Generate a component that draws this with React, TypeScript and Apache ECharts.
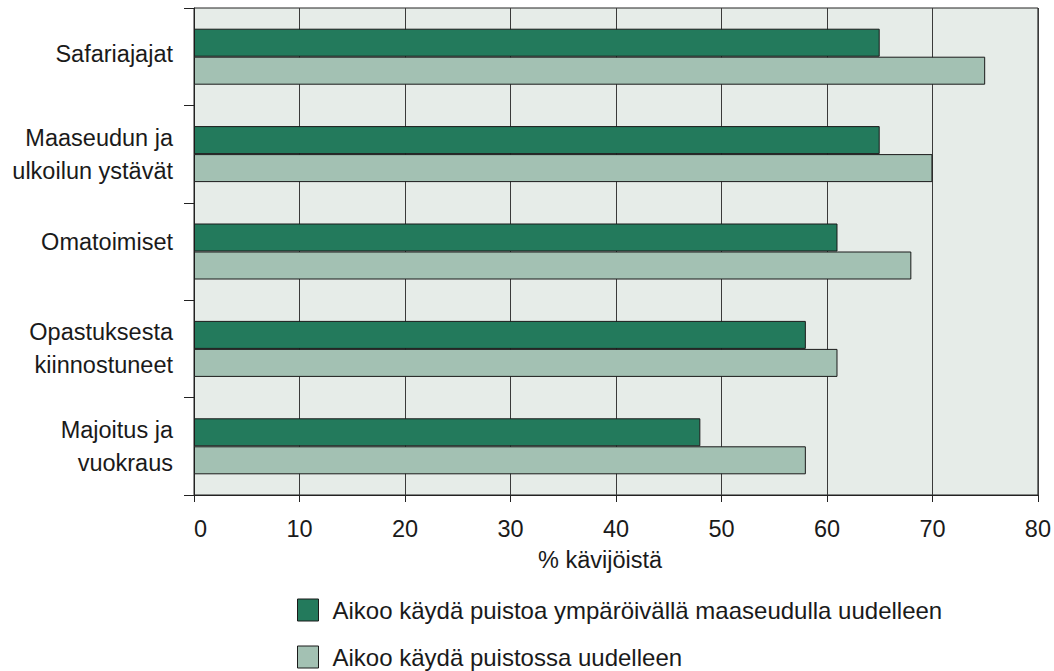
import React, { useEffect, useRef } from "react";
import * as echarts from "echarts";

const categories = [
  "Safariajajat",
  "Maaseudun ja\nulkoilun ystävät",
  "Omatoimiset",
  "Opastuksesta\nkiinnostuneet",
  "Majoitus ja\nvuokraus",
];
const labelStyleKey = ["s", "", "o", "", ""];
const seriesNames = [
  "Aikoo käydä puistoa ympäröivällä maaseudulla uudelleen",
  "Aikoo käydä puistossa uudelleen",
];
const surroundings = [65, 65, 61, 58, 48];
const park = [75, 70, 68, 61, 58];
const axisName = "% kävijöistä";

const FONT = "'Liberation Sans', Arial, sans-serif";

export default function App() {
  const ref = useRef<HTMLDivElement>(null);
  useEffect(() => {
    document.body.style.margin = "0";
    const chart = echarts.init(ref.current!, null, { renderer: "svg" });
    const tok = { fontSize: 23.5, color: "#1a1a1a", fontFamily: FONT };
    chart.setOption({
      animation: false,
      backgroundColor: "#ffffff",
      textStyle: { fontFamily: FONT },
      grid: {
        left: 194,
        right: 14,
        top: 8,
        bottom: 176,
        show: true,
        backgroundColor: "#E6ECE8",
        borderColor: "#222222",
        borderWidth: 1,
      },
      xAxis: {
        type: "value",
        min: 0,
        max: 80,
        interval: 10,
        axisLine: { show: true, lineStyle: { color: "#222222", width: 1 } },
        axisTick: { show: true, length: 7, lineStyle: { color: "#222222" } },
        splitLine: { show: true, lineStyle: { color: "#3a3a3a", width: 1 } },
        axisLabel: {
          fontSize: 23.5,
          color: "#1a1a1a",
          margin: 22,
          fontFamily: FONT,
          alignMinLabel: "left",
        },
      },
      yAxis: {
        type: "category",
        data: categories,
        inverse: true,
        axisLine: { show: true, lineStyle: { color: "#222222", width: 1 } },
        axisTick: { show: true, length: 10, lineStyle: { color: "#222222" } },
        axisLabel: {
          fontSize: 23.5,
          color: "#1a1a1a",
          margin: 21,
          lineHeight: 33,
          align: "right",
          fontFamily: FONT,
          formatter: (value: string, index: number) => {
            const k = labelStyleKey[index];
            return k ? `{${k}|${value}}` : value;
          },
          rich: {
            s: { ...tok, lineHeight: 33, padding: [0, 0, 6, 0] },
            o: { ...tok, lineHeight: 33, padding: [0, 0, 20, 0] },
          },
        },
      },
      legend: {
        orient: "vertical",
        left: 297,
        top: 598,
        padding: 0,
        itemWidth: 21,
        itemHeight: 22,
        itemGap: 23,
        icon: "rect",
        textStyle: { fontSize: 24, color: "#1a1a1a", fontFamily: FONT, padding: [0, 0, 0, 9] },
        itemStyle: { borderColor: "#1a1a1a", borderWidth: 1 },
        data: seriesNames,
      },
      graphic: [
        {
          type: "text",
          left: 538,
          top: 548,
          style: {
            text: axisName,
            fontSize: 23.5,
            fill: "#1a1a1a",
            fontFamily: FONT,
          },
        },
      ],
      series: [
        {
          name: seriesNames[0],
          type: "bar",
          data: surroundings,
          barWidth: 28,
          barGap: "0%",
          itemStyle: { color: "#237A5C", borderColor: "#1a1a1a", borderWidth: 1 },
        },
        {
          name: seriesNames[1],
          type: "bar",
          data: park,
          barWidth: 28,
          barGap: "0%",
          itemStyle: { color: "#A3C1B3", borderColor: "#1a1a1a", borderWidth: 1 },
        },
      ],
    });
    return () => chart.dispose();
  }, []);
  return <div ref={ref} style={{ width: 1054, height: 671 }} />;
}
